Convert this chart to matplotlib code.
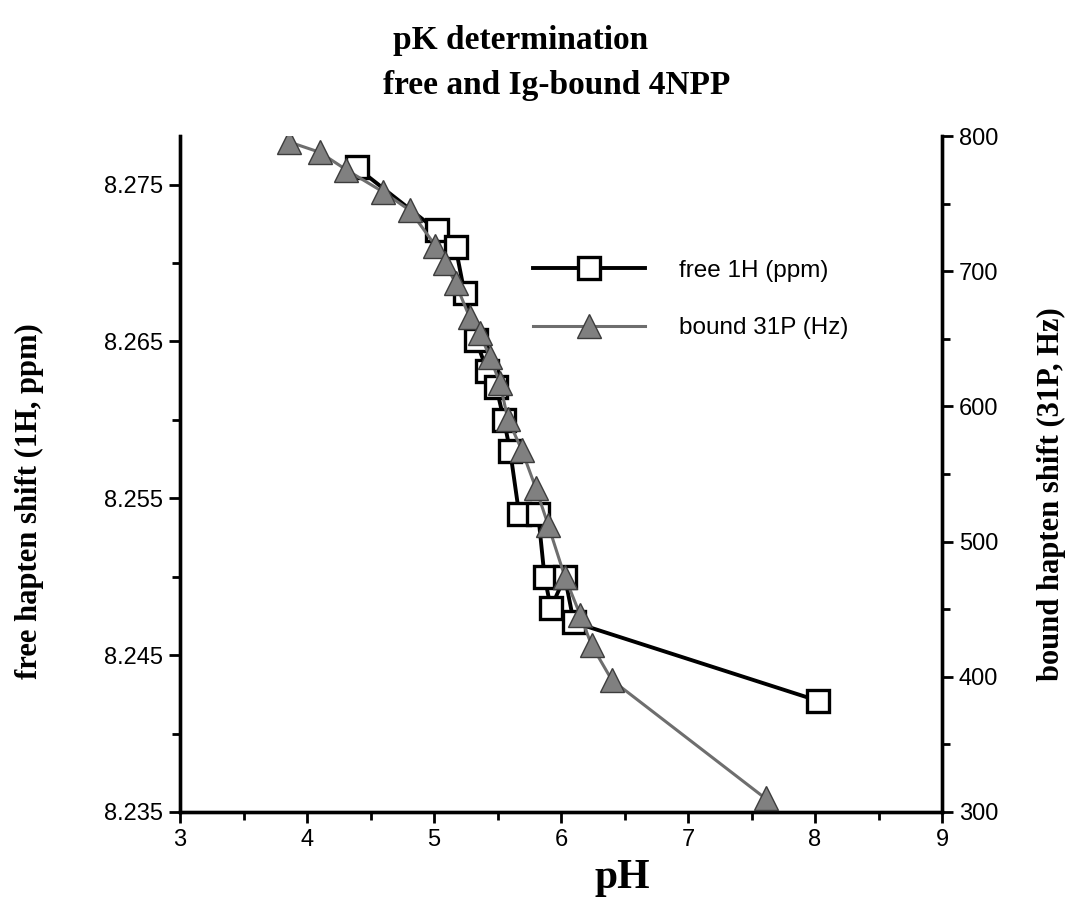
import matplotlib
matplotlib.use("Agg")
import matplotlib.pyplot as plt
from matplotlib.ticker import FixedLocator, MultipleLocator, FormatStrFormatter

# free hapten 1H shift (ppm) vs pH
free_ph = [4.39, 5.02, 5.17, 5.24, 5.33, 5.42, 5.49, 5.55, 5.60, 5.67, 5.82,
           5.87, 5.92, 6.03, 6.10, 8.02]
free_ppm = [8.2761, 8.2721, 8.2710, 8.2681, 8.2651, 8.2631, 8.2621, 8.2600,
            8.2580, 8.2540, 8.2540, 8.2500, 8.2480, 8.2500, 8.2471, 8.2421]

# bound hapten 31P shift (Hz) vs pH
bound_ph = [3.86, 4.10, 4.31, 4.60, 4.81, 5.01, 5.09, 5.17, 5.28, 5.36, 5.44,
            5.52, 5.58, 5.69, 5.80, 5.90, 6.03, 6.15, 6.24, 6.40, 7.61]
bound_hz = [795.6, 788, 775, 758.6, 745, 719, 706, 691, 666, 654, 636.5,
            617, 591, 568, 540, 512, 474, 446, 423.5, 397.6, 310]

left_ticks = [8.235, 8.245, 8.255, 8.265, 8.275]
right_ticks = [300, 400, 500, 600, 700, 800]
x_ticks = [3, 4, 5, 6, 7, 8, 9]

sans = ["Liberation Sans", "DejaVu Sans"]
serif = ["Liberation Serif", "DejaVu Serif"]

fig = plt.figure(figsize=(10.76, 9.10), dpi=100)
ax = fig.add_axes([0.1673, 0.1077, 0.7082, 0.7428])
ax2 = ax.twinx()

(l1,) = ax.plot(free_ph, free_ppm, color="black", lw=2.8, marker="s",
                markersize=16, markerfacecolor="white", markeredgecolor="black",
                markeredgewidth=2.4, label="free 1H (ppm)", zorder=3)
(l2,) = ax2.plot(bound_ph, bound_hz, color="#6e6e6e", lw=2.2, marker="^",
                 markersize=17, markerfacecolor="#808080",
                 markeredgecolor="#3c3c3c", markeredgewidth=1.0,
                 label="bound 31P (Hz)", zorder=3)

ax.set_xlim(3, 9)
ax.set_ylim(8.235, 8.2781)
ax2.set_ylim(300, 800)

ax.xaxis.set_major_locator(FixedLocator(x_ticks))
ax.xaxis.set_minor_locator(MultipleLocator(0.5))
ax.yaxis.set_major_locator(FixedLocator(left_ticks))
ax.yaxis.set_minor_locator(FixedLocator([8.240, 8.250, 8.260, 8.270]))
ax.yaxis.set_major_formatter(FormatStrFormatter("%.3f"))
ax2.yaxis.set_major_locator(FixedLocator(right_ticks))
ax2.yaxis.set_minor_locator(MultipleLocator(50))

for a in (ax, ax2):
    a.spines["top"].set_visible(False)
    for s in ("left", "right", "bottom"):
        a.spines[s].set_linewidth(2.4)
    a.tick_params(which="major", direction="out", length=8, width=2.0,
                  labelsize=17, pad=4)
    a.tick_params(which="minor", direction="out", length=6, width=2.0)
    for lab in a.get_xticklabels() + a.get_yticklabels():
        lab.set_family(sans)

ax.set_xlabel("pH", family=serif, fontweight="bold", fontsize=30)
ax.xaxis.set_label_coords(0.58, -0.07)
ax.set_ylabel("free hapten shift (1H, ppm)", family=serif, fontweight="bold",
              fontsize=22)
ax.yaxis.set_label_coords(-0.178, 0.46)
ax2.set_ylabel("bound hapten shift (31P, Hz)", family=serif, fontweight="bold",
               fontsize=22, rotation=90)
ax2.yaxis.set_label_coords(1.125, 0.47)

fig.text(0.484, 0.955, "pK determination", family=serif, fontweight="bold",
         fontsize=24, ha="center", va="center")
fig.text(0.517, 0.906, "free and Ig-bound 4NPP", family=serif,
         fontweight="bold", fontsize=24, ha="center", va="center")

leg = ax2.legend(handles=[l1, l2], loc="upper left",
                 bbox_to_anchor=(0.463, 0.817), frameon=False,
                 prop={"family": sans, "size": 17.5}, handlelength=4.6,
                 handletextpad=1.4, labelspacing=1.45, borderpad=0,
                 borderaxespad=0)

fig.savefig("out.png", dpi=100)
